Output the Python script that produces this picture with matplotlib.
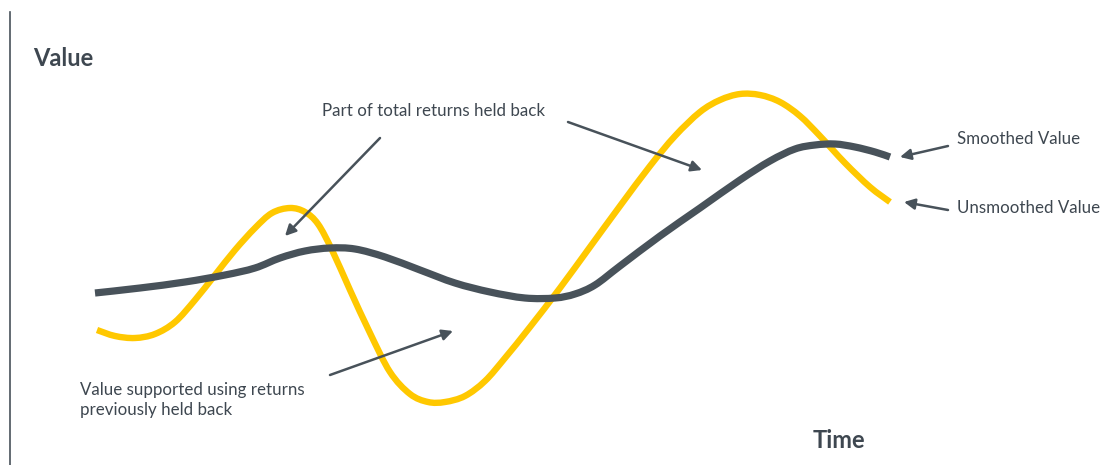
import matplotlib.pyplot as plt
from matplotlib.path import Path
from matplotlib.patches import PathPatch

plt.rcParams['font.family'] = ['Lato', 'DejaVu Sans']

# curves (time, value in picture units)
unsm_t = [97, 115, 135, 155, 175, 195, 215, 235, 255, 272, 290, 305, 318, 332, 350, 370, 390, 410, 428, 445,
          465, 485, 505, 530, 560, 590, 620, 650, 675, 700, 720, 740, 760, 780, 800, 820, 845, 870, 890]
unsm_v = [330, 336, 338, 334, 322, 300, 275, 250, 228, 213, 208, 212, 224, 250, 290, 333, 372, 394, 402, 402,
          396, 381, 358, 327, 288, 247, 206, 166, 136, 112, 100, 94, 95, 102, 116, 136, 163, 187, 202]
sm_t = [95, 140, 185, 225, 255, 280, 305, 330, 355, 385, 420, 455, 490, 525, 555, 575, 595, 620, 660, 700,
        740, 770, 795, 815, 835, 855, 875, 890]
sm_v = [293, 288, 282, 275, 268, 258, 251, 248, 249, 257, 270, 283, 292, 298, 298, 294, 285, 266, 236, 208,
        180, 161, 149, 145, 144, 147, 152, 157]

yellow = '#FFC800'
grey = '#48525A'
txt = '#3E4750'


def smooth_path(xs, ys):
    # catmull-rom through the points, as bezier segments
    pts = list(zip(xs, ys))
    verts = [pts[0]]
    codes = [Path.MOVETO]
    n = len(pts)
    for i in range(n - 1):
        p0 = pts[max(i - 1, 0)]
        p1 = pts[i]
        p2 = pts[i + 1]
        p3 = pts[min(i + 2, n - 1)]
        c1 = (p1[0] + (p2[0] - p0[0]) / 6, p1[1] + (p2[1] - p0[1]) / 6)
        c2 = (p2[0] - (p3[0] - p1[0]) / 6, p2[1] - (p3[1] - p1[1]) / 6)
        verts += [c1, c2, p2]
        codes += [Path.CURVE4] * 3
    return Path(verts, codes)


fig = plt.figure(figsize=(11.1, 4.65), dpi=100)
ax = fig.add_axes([0, 0, 1, 1])
ax.set_xlim(0, 1110)
ax.set_ylim(465, 0)
ax.axis('off')

ax.add_patch(PathPatch(smooth_path(unsm_t, unsm_v), fill=False, edgecolor=yellow, lw=4.6,
                       capstyle='butt', joinstyle='round', zorder=2))
ax.add_patch(PathPatch(smooth_path(sm_t, sm_v), fill=False, edgecolor=grey, lw=5.2,
                       capstyle='butt', joinstyle='round', zorder=3))

# axis line
ax.plot([10, 10], [12, 465], color=grey, lw=1.2)
ax.text(33, 58, 'Value', fontsize=17, fontweight='bold', color=txt, va='center')
ax.text(813, 440, 'Time', fontsize=17, fontweight='bold', color=txt, va='center')

arrow = dict(arrowstyle='-|>', color=grey, lw=1.8, mutation_scale=16, shrinkA=0, shrinkB=0)
ax.annotate('', xy=(285, 236), xytext=(380, 138), arrowprops=arrow)
ax.annotate('', xy=(702, 170), xytext=(568, 122), arrowprops=arrow)
ax.annotate('', xy=(453, 331), xytext=(330, 375), arrowprops=arrow)
ax.annotate('', xy=(900, 157), xytext=(948, 146), arrowprops=arrow)
ax.annotate('', xy=(904, 202), xytext=(948, 210), arrowprops=arrow)

ax.text(434, 111, 'Part of total returns held back', fontsize=12.2, color=txt, ha='center', va='center')
ax.text(80, 400, 'Value supported using returns\npreviously held back', fontsize=12.2, color=txt,
        ha='left', va='center', linespacing=1.25)
ax.text(957, 139, 'Smoothed Value', fontsize=12.2, color=txt, va='center')
ax.text(957, 208, 'Unsmoothed Value', fontsize=12.2, color=txt, va='center')

fig.savefig('out.png', dpi=100)
